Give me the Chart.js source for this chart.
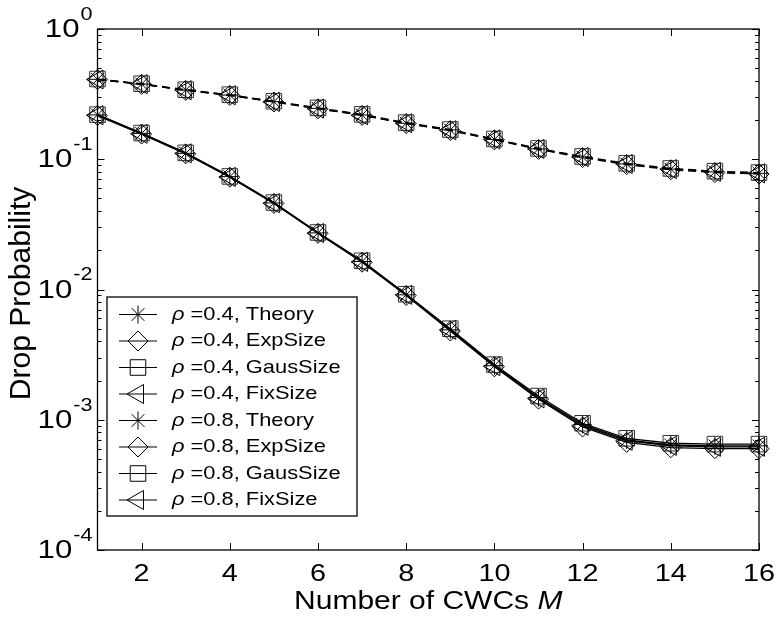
<!DOCTYPE html>
<html>
<head>
<meta charset="utf-8">
<script src="https://cdn.jsdelivr.net/npm/chart.js@4"></script>
<style>
  html, body { margin: 0; padding: 0; background: #fff; }
</style>
</head>
<body>
<canvas id="chart" width="778" height="619"></canvas>
<script>
'use strict';

// number of CWCs M
const cwcs = [1, 2, 3, 4, 5, 6, 7, 8, 9, 10, 11, 12, 13, 14, 15, 16];

// rho = 0.4 (solid)
const theory04 = [0.219, 0.158, 0.111, 0.0735, 0.0462, 0.0272, 0.0164, 0.0091, 0.0049, 0.0026, 0.00148, 0.00092, 0.00070, 0.00064, 0.00063, 0.00063];
const exp04 = [0.216, 0.156, 0.110, 0.0728, 0.0458, 0.0270, 0.0162, 0.0090, 0.0048, 0.00255, 0.00144, 0.00088, 0.00067, 0.00061, 0.00060, 0.00060];
const gaus04 = [0.220, 0.159, 0.112, 0.0738, 0.0465, 0.0274, 0.0166, 0.0092, 0.0050, 0.00265, 0.00152, 0.00094, 0.00072, 0.00066, 0.00065, 0.00065];
const fix04 = [0.218, 0.157, 0.111, 0.0732, 0.0460, 0.0271, 0.0163, 0.0091, 0.0049, 0.00258, 0.00146, 0.00090, 0.00069, 0.00063, 0.00062, 0.00062];

// rho = 0.8 (dashed)
const theory08 = [0.411, 0.378, 0.340, 0.311, 0.277, 0.246, 0.219, 0.189, 0.168, 0.142, 0.120, 0.104, 0.092, 0.084, 0.080, 0.078];
const exp08 = [0.408, 0.376, 0.338, 0.309, 0.275, 0.244, 0.217, 0.188, 0.166, 0.141, 0.119, 0.103, 0.091, 0.083, 0.079, 0.077];
const gaus08 = [0.413, 0.380, 0.342, 0.313, 0.279, 0.248, 0.221, 0.191, 0.169, 0.143, 0.121, 0.105, 0.093, 0.085, 0.081, 0.079];
const fix08 = [0.410, 0.377, 0.339, 0.310, 0.276, 0.245, 0.218, 0.189, 0.167, 0.142, 0.120, 0.104, 0.092, 0.084, 0.080, 0.078];

const seriesNames = ['Theory', 'ExpSize', 'GausSize', 'FixSize'];
const xTicks = [2, 4, 6, 8, 10, 12, 14, 16];
const yDecades = [-4, -3, -2, -1, 0];

const FONT = '"Liberation Sans", Arial, sans-serif';

// marker look per series: theory = star, exp = diamond, gaus = square, fix = left triangle
const markers = [
  { style: 'star', radius: 9, rotation: 0 },
  { style: 'rectRot', radius: 10, rotation: 0 },
  { style: 'rect', radius: 11, rotation: 0 },
  { style: 'triangle', radius: 11, rotation: -90 }
];

function makeSet(label, values, k, dashed) {
  return {
    label: label,
    data: values.map((v, i) => ({ x: cwcs[i], y: v })),
    borderColor: '#000',
    borderWidth: 1.3,
    borderDash: dashed ? [8, 5] : [],
    pointStyle: markers[k].style,
    pointRadius: markers[k].radius,
    pointRotation: markers[k].rotation,
    pointBorderColor: k === 2 ? '#333' : '#000',
    pointBorderWidth: 1,
    pointBackgroundColor: 'rgba(0,0,0,0)',
    pointHoverRadius: markers[k].radius,
    fill: false,
    tension: 0,
    clip: false
  };
}

const datasets = [
  makeSet('rho=0.4, Theory', theory04, 0, false),
  makeSet('rho=0.4, ExpSize', exp04, 1, false),
  makeSet('rho=0.4, GausSize', gaus04, 2, false),
  makeSet('rho=0.4, FixSize', fix04, 3, false),
  makeSet('rho=0.8, Theory', theory08, 0, true),
  makeSet('rho=0.8, ExpSize', exp08, 1, true),
  makeSet('rho=0.8, GausSize', gaus08, 2, true),
  makeSet('rho=0.8, FixSize', fix08, 3, true)
];

// text helper, stretched horizontally like the original figure
function wideText(ctx, str, x, y, font, align, sx) {
  ctx.save();
  ctx.font = font;
  ctx.textAlign = align;
  ctx.textBaseline = 'middle';
  ctx.translate(x, y);
  ctx.scale(sx, 1);
  ctx.fillText(str, 0, 0);
  ctx.restore();
}

function wideWidth(ctx, str, font, sx) {
  ctx.save();
  ctx.font = font;
  const w = ctx.measureText(str).width * sx;
  ctx.restore();
  return w;
}

// draws the matlab style frame, ticks, labels and legend
const matlabAxes = {
  id: 'matlabAxes',
  afterDraw(chart) {
    const ctx = chart.ctx;
    const area = chart.chartArea;
    const xs = chart.scales.x;
    const ys = chart.scales.y;
    ctx.save();

    // frame
    ctx.strokeStyle = '#000';
    ctx.lineWidth = 1.3;
    ctx.strokeRect(area.left, area.top, area.right - area.left, area.bottom - area.top);

    // x ticks
    ctx.lineWidth = 1;
    ctx.beginPath();
    xTicks.forEach(t => {
      const px = Math.round(xs.getPixelForValue(t)) + 0.5;
      ctx.moveTo(px, area.bottom);
      ctx.lineTo(px, area.bottom - 7);
      ctx.moveTo(px, area.top);
      ctx.lineTo(px, area.top + 7);
    });
    // y ticks (major + minor)
    yDecades.forEach(d => {
      const py = Math.round(ys.getPixelForValue(Math.pow(10, d))) + 0.5;
      ctx.moveTo(area.left, py);
      ctx.lineTo(area.left + 7, py);
      ctx.moveTo(area.right, py);
      ctx.lineTo(area.right - 7, py);
      if (d < 0) {
        for (let k = 2; k <= 9; k++) {
          const my = Math.round(ys.getPixelForValue(k * Math.pow(10, d))) + 0.5;
          ctx.moveTo(area.left, my);
          ctx.lineTo(area.left + 4, my);
          ctx.moveTo(area.right, my);
          ctx.lineTo(area.right - 4, my);
        }
      }
    });
    ctx.stroke();

    ctx.fillStyle = '#000';

    // x tick labels
    xTicks.forEach(t => {
      wideText(ctx, String(t), xs.getPixelForValue(t), area.bottom + 24, '24px ' + FONT, 'center', 1.2);
    });

    // y tick labels 10^d
    yDecades.forEach(d => {
      const py = ys.getPixelForValue(Math.pow(10, d));
      const sup = d === 0 ? '0' : '-' + Math.abs(d);
      const supFont = '18px ' + FONT;
      const supW = wideWidth(ctx, sup, supFont, 1.2);
      const xr = area.left - 5 - supW;
      wideText(ctx, sup, xr, py - 14, supFont, 'left', 1.2);
      wideText(ctx, '10', xr - 1, py + 1, '26px ' + FONT, 'right', 1.2);
    });

    // x title, with italic M
    const xt1 = 'Number of CWCs ';
    const xt2 = 'M';
    const f1 = '25px ' + FONT;
    const f2 = 'italic 25px ' + FONT;
    const w1 = wideWidth(ctx, xt1, f1, 1.2);
    const w2 = wideWidth(ctx, xt2, f2, 1.2);
    const sx = (area.left + area.right) / 2 - (w1 + w2) / 2;
    wideText(ctx, xt1, sx, area.bottom + 52, f1, 'left', 1.2);
    wideText(ctx, xt2, sx + w1, area.bottom + 52, f2, 'left', 1.2);

    // y title
    ctx.save();
    ctx.translate(22, (area.top + area.bottom) / 2 + 4);
    ctx.rotate(-Math.PI / 2);
    ctx.font = '30px ' + FONT;
    ctx.textAlign = 'center';
    ctx.textBaseline = 'middle';
    ctx.fillText('Drop Probability', 0, 0);
    ctx.restore();

    // legend box
    const lx = 107, ly = 297, lw = 250, lh = 219;
    ctx.fillStyle = '#fff';
    ctx.fillRect(lx, ly, lw, lh);
    ctx.strokeStyle = '#000';
    ctx.lineWidth = 1.3;
    ctx.strokeRect(lx, ly, lw, lh);

    chart.data.datasets.forEach((ds, i) => {
      const ry = 314.5 + i * 26.5;
      const k = i % 4;
      ctx.lineWidth = 1;
      ctx.strokeStyle = '#000';
      ctx.beginPath();
      ctx.moveTo(119, ry);
      ctx.lineTo(157, ry);
      ctx.stroke();
      ctx.fillStyle = 'rgba(0,0,0,0)';
      Chart.helpers.drawPoint(ctx, {
        pointStyle: markers[k].style,
        radius: markers[k].radius,
        rotation: markers[k].rotation,
        borderWidth: 1
      }, 138, ry);
      ctx.fillStyle = '#000';
      const rf = 'italic 19px ' + FONT;
      wideText(ctx, '\u03c1', 172, ry, rf, 'left', 1.15);
      const rw = wideWidth(ctx, '\u03c1', rf, 1.15);
      const rho = i < 4 ? '0.4' : '0.8';
      wideText(ctx, ' =' + rho + ', ' + seriesNames[k], 172 + rw, ry, '19px ' + FONT, 'left', 1.15);
    });

    ctx.restore();
  }
};

let chartConfig = {
  type: 'line',
  data: { datasets: datasets },
  options: {
    responsive: false,
    animation: false,
    devicePixelRatio: 1,
    layout: { padding: { left: 0, top: 29, right: 19, bottom: 0 } },
    plugins: {
      legend: { display: false },
      tooltip: { enabled: false }
    },
    scales: {
      x: {
        type: 'linear',
        min: 1,
        max: 16,
        grid: { display: false },
        border: { display: false },
        ticks: { display: false },
        afterFit(scale) { scale.height = 69; }
      },
      y: {
        type: 'logarithmic',
        min: 1e-4,
        max: 1,
        grid: { display: false },
        border: { display: false },
        ticks: { display: false },
        afterFit(scale) { scale.width = 97.5; }
      }
    }
  },
  plugins: [matlabAxes]
};

let myChart = new Chart(document.getElementById('chart'), chartConfig);
</script>
</body>
</html>
